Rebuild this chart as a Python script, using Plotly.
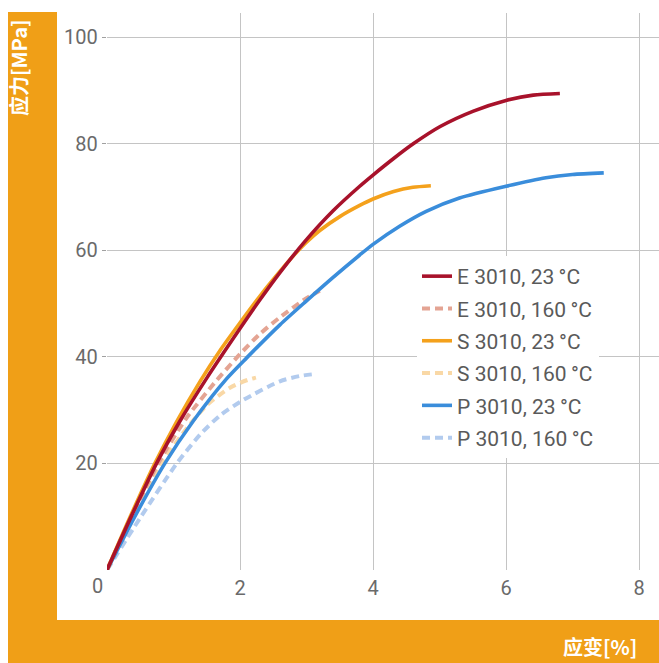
import plotly.graph_objects as go

# ---- data (strain %, stress MPa) ----
e23_x = [0, 0.37, 0.745, 1.10, 1.50, 2.00, 2.30, 2.60, 2.98, 3.40, 3.80, 4.00, 4.31, 4.61, 5.01, 5.51, 6.00, 6.41, 6.81]
e23_y = [0, 10.2, 20.0, 28.0, 36.0, 45.3, 50.7, 55.8, 61.7, 67.4, 72.0, 74.1, 77.2, 80.0, 83.2, 86.1, 88.1, 89.1, 89.4]

e160_x = [0, 0.38, 0.77, 1.20, 1.65, 2.00, 2.30, 2.60, 3.00, 3.20]
e160_y = [0, 10.3, 20.0, 28.6, 35.6, 40.5, 44.3, 47.4, 51.0, 52.4]

s23_x = [0, 0.36, 0.72, 1.05, 1.40, 1.70, 2.00, 2.30, 2.60, 2.80, 3.00, 3.20, 3.50, 3.80, 4.00, 4.31, 4.60, 4.87]
s23_y = [0, 10.3, 20.0, 27.9, 35.4, 41.2, 46.4, 51.4, 56.0, 58.9, 61.5, 63.7, 66.3, 68.4, 69.6, 71.0, 71.8, 72.1]

s160_x = [0, 0.40, 0.82, 1.20, 1.50, 1.85, 2.10, 2.24]
s160_y = [0, 10.4, 20.0, 26.6, 30.9, 34.2, 35.6, 36.1]

p23_x = [0, 0.43, 0.87, 1.30, 1.80, 2.10, 2.60, 3.00, 3.40, 3.80, 4.00, 4.40, 4.80, 5.30, 6.00, 6.60, 7.00, 7.47]
p23_y = [0, 10.3, 20.0, 28.0, 35.9, 39.8, 46.0, 50.5, 54.9, 59.1, 61.1, 64.5, 67.3, 69.8, 72.0, 73.6, 74.2, 74.5]

p160_x = [0, 0.50, 1.05, 1.40, 1.70, 2.05, 2.60, 2.90, 3.15]
p160_y = [0, 9.8, 20.0, 25.4, 29.0, 31.9, 35.4, 36.4, 36.8]

names = ["E 3010, 23\u2009°C", "E 3010, 160\u2009°C", "S 3010, 23\u2009°C",
         "S 3010, 160\u2009°C", "P 3010, 23\u2009°C", "P 3010, 160\u2009°C"]

y_ticks = [20, 40, 60, 80, 100]
x_ticks = [2, 4, 6, 8]

# ---- styles ----
RED = "#A8122B"
SALMON = "#E4A493"
ORANGE = "#F4A11C"
LORANGE = "#F9D8A6"
BLUE = "#3A8DDB"
LBLUE = "#B2CBEE"
FRAME = "#F09F17"

series = [
    (e23_x, e23_y, names[0], RED, "solid", 6),
    (e160_x, e160_y, names[1], SALMON, "8px,5px", 3),
    (s23_x, s23_y, names[2], ORANGE, "solid", 5),
    (s160_x, s160_y, names[3], LORANGE, "8px,5px", 2),
    (p23_x, p23_y, names[4], BLUE, "solid", 4),
    (p160_x, p160_y, names[5], LBLUE, "8px,5px", 1),
]

fig = go.Figure()
for x, y, name, color, dash, z in series:
    fig.add_trace(go.Scatter(
        x=x, y=y, name=name, mode="lines", legendgroup=name, zorder=z,
        line=dict(color=color, width=3.6 if dash == "solid" else 4, dash=dash,
                  shape="spline", smoothing=0.7),
        hoverinfo="skip"))

W, H = 659, 663
L, R, T, B = 107, 0, 13, 93
pw, ph = W - L - R, H - T - B
PX_PER_X = 66.5
PX_PER_Y = 5.33

def px(xp):
    return (xp - L) / pw

def py(yp):
    return (H - B - yp) / ph

tickfont = dict(family="Roboto, sans-serif", size=20, color="#6a6a6a")

fig.update_layout(
    width=W, height=H,
    margin=dict(l=L, r=R, t=T, b=B, pad=0),
    paper_bgcolor="white", plot_bgcolor="white",
    showlegend=True,
    legend=dict(
        x=px(417), y=py(256), xanchor="left", yanchor="top",
        bgcolor="white", borderwidth=0, tracegroupgap=2,
        font=dict(family="Roboto, sans-serif", size=21, color="#5a5a5a"),
        itemwidth=30, traceorder="grouped",
    ),
    xaxis=dict(
        range=[0, pw / PX_PER_X], tickvals=x_ticks, ticktext=[str(v) for v in x_ticks],
        showgrid=True, gridcolor="#c4c4c4", gridwidth=1,
        showline=True, linecolor="#a0a0a0", linewidth=1.3, mirror=True,
        ticks="", tickfont=tickfont, zeroline=False, fixedrange=True,
    ),
    yaxis=dict(
        range=[0, ph / PX_PER_Y], tickvals=y_ticks, ticktext=[str(v) for v in y_ticks],
        showgrid=True, gridcolor="#c4c4c4", gridwidth=1,
        showline=True, linecolor="#a0a0a0", linewidth=1.3,
        ticks="outside", ticklen=4, tickcolor="#a0a0a0", tickfont=tickfont,
        zeroline=False, fixedrange=True,
    ),
    shapes=[
        dict(type="rect", xref="paper", yref="paper", x0=px(8), x1=px(57), y0=py(663), y1=py(12),
             fillcolor=FRAME, line=dict(width=0), layer="above"),
        dict(type="rect", xref="paper", yref="paper", x0=px(8), x1=px(659), y0=py(663), y1=py(620),
             fillcolor=FRAME, line=dict(width=0), layer="above"),
    ],
    annotations=[
        dict(text="0", xref="paper", yref="paper", x=px(97), y=py(586), xanchor="center", yanchor="middle",
             showarrow=False, font=tickfont),
        dict(text="<b>应力[MPa]</b>", xref="paper", yref="paper", x=px(18), y=py(68), textangle=-90,
             xanchor="center", yanchor="middle", showarrow=False,
             font=dict(family="Noto Sans CJK SC", size=20, color="white")),
        dict(text="<b>应变[%]</b>", xref="paper", yref="paper", x=px(600), y=py(646),
             xanchor="center", yanchor="middle", showarrow=False,
             font=dict(family="Noto Sans CJK SC", size=20, color="white")),
    ],
)

fig.write_html("out.html")
